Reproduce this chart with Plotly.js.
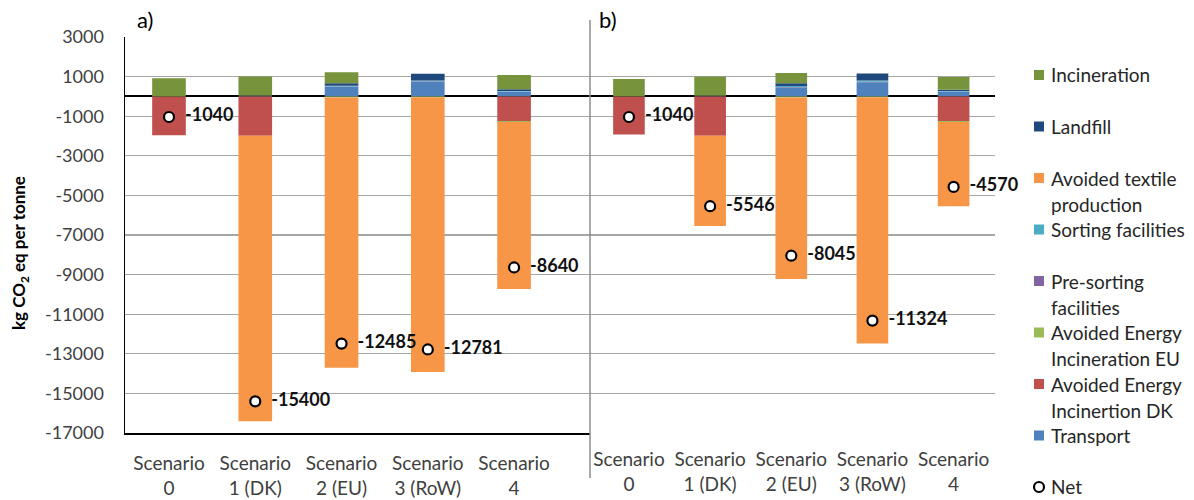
<!DOCTYPE html>
<html>
<head>
<meta charset="utf-8">
<script src="https://cdn.plot.ly/plotly-3.0.1.min.js"></script>
<style>html,body{margin:0;padding:0;background:#fff;}#chart{width:1194px;height:500px;}</style>
</head>
<body>
<div id="chart"></div>
<script>
// ---- data ----
const categories = ['Scenario<br>0', 'Scenario<br>1 (DK)', 'Scenario<br>2 (EU)', 'Scenario<br>3 (RoW)', 'Scenario<br>4'];

// panel a)
const transportA    = [0, 20, 480, 740, 230];
const avoidedDKA    = [-1960, -1990, 0, 0, -1240];
const avoidedEUA    = [0, 0, -60, -40, -50];
const preSortingA   = [0, 10, 20, 20, 15];
const sortingA      = [0, 10, 40, 40, 30];
const textileA      = [0, -14420, -13645, -13881, -8435];
const landfillA     = [0, 0, 120, 340, 80];
const incinerationA = [920, 970, 560, 0, 730];
const netA          = [-1040, -15400, -12485, -12781, -8640];

// panel b)
const transportB    = [0, 20, 450, 720, 230];
const avoidedDKB    = [-1920, -1990, 0, 0, -1240];
const avoidedEUB    = [0, 0, -60, -40, -50];
const preSortingB   = [0, 10, 20, 20, 15];
const sortingB      = [0, 10, 60, 60, 30];
const textileB      = [0, -4556, -9165, -12444, -4255];
const landfillB     = [0, 0, 130, 360, 60];
const incinerationB = [880, 960, 520, 0, 640];
const netB          = [-1040, -5546, -8045, -11324, -4570];

const seriesNames = ['Transport', 'Avoided Energy Incinertion DK', 'Avoided Energy Incineration EU',
  'Pre-sorting facilities', 'Sorting facilities', 'Avoided textile production', 'Landfill', 'Incineration'];
const seriesColors = ['#4F81BD', '#C0504D', '#9BBB59', '#8064A2', '#4BACC6', '#F79646', '#1F497D', '#77933C'];

const yTickVals   = [-17000, -15000, -13000, -11000, -9000, -7000, -5000, -3000, -1000, 1000, 3000];
const yTickLabels = ['-17000', '-15000', '-13000', '-11000', '-9000', '-7000', '-5000', '-3000', '-1000', '1000', '3000'];

const legendLabels = [
  ['Incineration'], ['Landfill'], ['Avoided textile', 'production'], ['Sorting facilities'],
  ['Pre-sorting', 'facilities'], ['Avoided Energy', 'Incineration EU'], ['Avoided Energy', 'Incinertion DK'], ['Transport']
];
const legendColors = ['#77933C', '#1F497D', '#F79646', '#4BACC6', '#8064A2', '#9BBB59', '#C0504D', '#4F81BD'];
const netLabel = 'Net';

// ---- build ----
const seriesA = [transportA, avoidedDKA, avoidedEUA, preSortingA, sortingA, textileA, landfillA, incinerationA];
const seriesB = [transportB, avoidedDKB, avoidedEUB, preSortingB, sortingB, textileB, landfillB, incinerationB];

const traces = [];
function addPanel(series, net, xa) {
  series.forEach((vals, i) => {
    traces.push({
      type: 'bar', x: categories, y: vals, name: seriesNames[i], xaxis: xa, yaxis: 'y',
      width: 0.39, marker: {color: seriesColors[i], line: {width: 0}}, hoverinfo: 'y+name'
    });
  });
  traces.push({
    type: 'scatter', mode: 'markers+text', x: categories, y: net, name: 'Net', xaxis: xa, yaxis: 'y',
    text: net.map(v => '\u00a0\u00a0' + String(v)), textposition: 'middle right',
    textfont: {family: 'Lato, sans-serif', size: 18, color: '#111', weight: 'bold'},
    marker: {symbol: 'circle', size: 10, color: '#fff', line: {color: '#000', width: 2.2}},
    cliponaxis: false
  });
}
addPanel(seriesA, netA, 'x');
addPanel(seriesB, netB, 'x2');

// pixel -> paper helpers (plot area: x 125..995, y 37..433)
const L = 125, R = 995, T = 37, B = 433;
const px = v => (v - L) / (R - L);
const py = v => (B - v) / (B - T);

const shapes = [];
const annotations = [];

// legend
const legendTop = 75, slot = 51.5, lineH = 26;
const legendFont = {family: 'Lato, sans-serif', size: 19, color: '#262626'};
legendLabels.forEach((lines, i) => {
  const yc = legendTop + slot * i;
  shapes.push({type: 'rect', xref: 'paper', yref: 'paper', x0: px(1034), x1: px(1044), y0: py(yc - 5), y1: py(yc + 5),
    fillcolor: legendColors[i], line: {width: 0}});
  lines.forEach((t, k) => {
    annotations.push({xref: 'paper', yref: 'paper', x: px(1049), y: py(yc + k * lineH), xanchor: 'left', yanchor: 'middle',
      text: t, showarrow: false, font: legendFont});
  });
});
const netY = legendTop + slot * 8;
shapes.push({type: 'circle', xref: 'paper', yref: 'paper', x0: px(1034), x1: px(1044), y0: py(netY - 5), y1: py(netY + 5),
  fillcolor: '#fff', line: {color: '#000', width: 2.2}});
annotations.push({xref: 'paper', yref: 'paper', x: px(1049), y: py(netY), xanchor: 'left', yanchor: 'middle',
  text: netLabel, showarrow: false, font: legendFont});

// panel labels
annotations.push({xref: 'paper', yref: 'paper', x: px(135), y: py(20), xanchor: 'left', yanchor: 'middle',
  text: 'a)', showarrow: false, font: {family: 'Lato, sans-serif', size: 22, color: '#000'}});
annotations.push({xref: 'paper', yref: 'paper', x: px(597), y: py(20), xanchor: 'left', yanchor: 'middle',
  text: 'b)', showarrow: false, font: {family: 'Lato, sans-serif', size: 22, color: '#000'}});

// y title
annotations.push({xref: 'paper', yref: 'paper', x: px(20), y: py(253), xanchor: 'center', yanchor: 'middle',
  textangle: -90, text: '<b>kg CO<sub>2</sub> eq per tonne</b>', showarrow: false,
  font: {family: 'Lato, sans-serif', size: 17, color: '#000'}});

// divider line between panels
shapes.push({type: 'line', xref: 'paper', yref: 'paper', x0: px(590), x1: px(590), y0: py(20), y1: py(478),
  line: {color: '#8c8c8c', width: 1.5}});

const tickFontX = {family: 'Lato, sans-serif', size: 19, color: '#404040'};
const layout = {
  width: 1194, height: 500,
  margin: {l: L, r: 1194 - R, t: T, b: 500 - B, pad: 0},
  barmode: 'relative', showlegend: false,
  paper_bgcolor: '#fff', plot_bgcolor: '#fff',
  font: {family: 'Lato, sans-serif', size: 17, color: '#404040'},
  xaxis: {domain: [0, px(590)], anchor: 'y', range: [-0.51, 4.88], showgrid: false, zeroline: false,
    showline: true, linecolor: '#000', linewidth: 1.5, ticks: '', ticklabelstandoff: 13,
    tickfont: tickFontX, fixedrange: true},
  xaxis2: {domain: [px(590), 1], anchor: 'y', range: [-0.48, 4.51], showgrid: false, zeroline: false,
    showline: false, ticks: '', ticklabelstandoff: 13,
    tickfont: tickFontX, fixedrange: true},
  yaxis: {range: [-17000, 3000], tickvals: yTickVals, ticktext: yTickLabels, showgrid: true,
    gridcolor: '#a6a6a6', gridwidth: 1.3, zeroline: true, zerolinecolor: '#000', zerolinewidth: 2,
    showline: true, linecolor: '#000', linewidth: 1.5, ticks: '', ticklabelstandoff: 16,
    tickfont: {family: 'Lato, sans-serif', size: 18, color: '#404040'}, fixedrange: true},
  shapes: shapes,
  annotations: annotations
};

Plotly.newPlot('chart', traces, layout, {displayModeBar: false, staticPlot: true});
</script>
</body>
</html>
